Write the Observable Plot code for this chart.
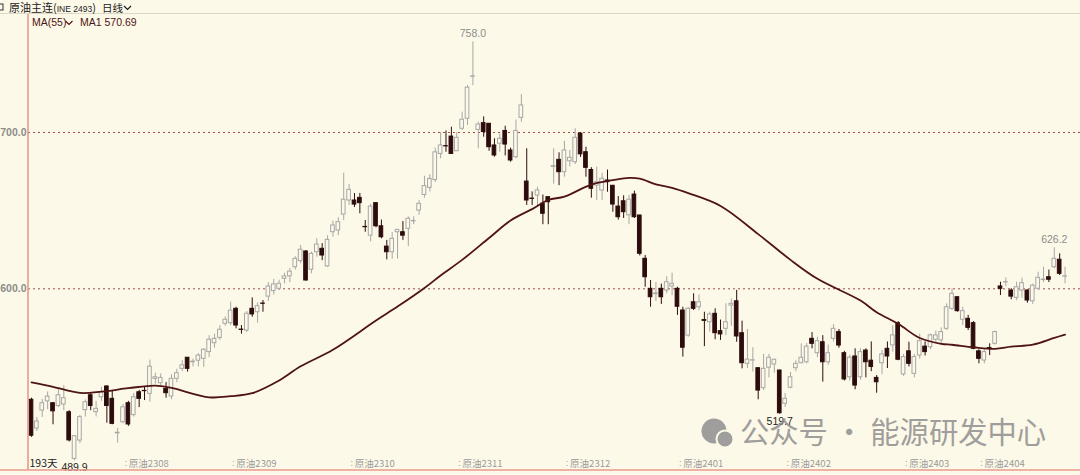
<!DOCTYPE html>
<html><head><meta charset="utf-8">
<script src="https://cdn.jsdelivr.net/npm/d3@7"></script>
<script src="https://cdn.jsdelivr.net/npm/@observablehq/plot@0.6"></script>
<style>
html,body{margin:0;padding:0;background:#fdf9e8;}
#chart{width:1080px;height:475px;overflow:hidden;}
</style></head><body><div id="chart"></div>
<script>
// ---- data (daily OHLC, 原油主连) ----
const open = [529,510.6,522.1,528,526.8,525,526,521,491.2,502.9,
522.4,531.9,521.1,530.6,537.5,529.6,507.5,514.6,526.8,519.2,
533.8,534.7,532.8,542.4,539.6,536,531.1,542.4,548.8,555.9,
553,554,555.2,559.5,565.2,568.6,577.6,578,587.2,573.9,
573.3,587.2,585,590.6,595,598.5,600,606.4,608,613.8,
617.7,623.9,612.2,623.4,625.6,614.3,636.2,637.3,647.5,656.5,
656.5,658.2,639.6,634,654.8,640,627,623.4,636.2,636.2,
638.4,643.2,650,660,664.6,669.6,686.3,691.3,697.4,688,
702.4,708.8,735.6,701.7,706,705.6,691.7,692.8,701,688.5,
684.2,709.4,668.6,657.7,659.7,654.4,658.6,678,682.5,674.6,
681.6,681,699.2,687.4,676,666,662.9,669.3,665.9,652.6,
656,647,660.3,646.9,619.2,600,596.6,600,598.9,601.5,
600,586.1,570,591.4,588.2,580,578.6,584,572.9,574.4,
589.3,592,571.6,552,554.1,549.2,536.4,549.5,551.6,547.7,
526.4,536.7,549.2,552.4,553,568,558.8,565.8,553,568,
572.3,558.8,543.4,556.7,543.4,560.5,554,543,552.4,561.6,
563.8,578,545.2,560,545.6,557.3,563,562.6,567.4,567,
574.4,587.2,594.6,580.2,580.8,578,560,554.1,562.1,564.8,
601.5,604.1,598.9,594.2,598.9,598.9,592,600,605.6,607.4,
613.8,618.6,607.8];
const high = [530,517.7,529.2,534,527,536,538,522,506,519,
529,533,528,537,538,535,510.6,526,528,533,
535,537.5,554.4,546,545.5,540,545,548.5,554,556,
555,558.5,561.6,570,571,576.5,582,591.5,588.2,576.5,
585.5,594.2,591,592.5,604,606,605.5,610,613,620.5,
627.7,624.5,623.4,632,628.9,634,643.3,645.5,674,666.7,
661,661,643.7,654,655,644,631,636,638,643,
646,646,656.5,672,673,690,700,701,703.4,700,
713,730,758,706.6,710,705.6,696,699,704,690,
708,724.3,689.6,662,665,660,659,689.6,687,694.4,
688.5,702.4,700,690.6,677.5,677.8,674,676,666.2,659,
659.5,659.7,662.5,647,621.3,605.3,604,603,607.8,610,
601,588.2,588,596.8,596,585,585,587.2,580,590.4,
593.5,599,579.3,574,562.3,549.2,558,558,555,548,
533,546.5,554,564.8,565,572,569,570,564,577,
574,560,557.5,561.6,561.6,561.6,566,544.5,560.5,566,
576.5,579,558,565.8,558,571,566,571,573,575,
590.4,600,595,588.2,583,579,561,561,564.8,573,
604.2,607,600,604.2,606.8,599.4,603,610.6,613.8,612,
626.2,622.4,613.8];
const low = [505,508.7,517.7,522.7,513,524,522,502,489.9,501,
518,522,518,528,514,513,501.2,513.6,512,518,
524,528.5,527.4,539,538,530,529,540,547,546.7,
550,550,549.8,556,562,567,576,576.5,574.4,571,
572,581.8,578,585,592,596,599,603.2,604,612,
616,605,609.6,620.2,618,613.6,633,634,643.7,653.3,
652,648,636.2,630,639,632,618.5,618.8,619,631,
627,641,647,658,662,668,683.2,687.4,686,688,
701.3,704.5,730,689.6,697,688,684.2,687.4,685,681,
683.2,706.6,653.3,653.3,653,641,641,667,666,671.4,
678,679.5,684,671.4,658,656.5,656.5,661.8,649,644,
645,641,645,621,601,588.2,592,590,596.8,595.6,
583,556.3,569,586.1,586,563,572.3,567.4,567,570,
576,565.8,548.8,549,546.7,529,535,543,546,519.7,
524,536,547,552,552,561.6,556,540.3,551,566,
562,541,541,535.4,541.6,543,547,533.2,545,549,
559.5,554,544,550,543,555,557,561,565,565,
573.3,586.1,585,576.5,573.3,561,552,552,557.3,564,
595.7,601.5,593,592.4,594,590.8,590,599,604,604,
612.8,608.5,603.2];
const close = [506,515.1,526.8,531,521.6,531.9,530,503,505.7,517.9,
527.4,525,523.2,533.8,525,513.6,507.9,524.2,513.2,530.6,
529.6,534.5,550.2,543.4,543,533.2,542.4,546,551,548.8,
553.4,557.3,561,567.4,568,573.8,580.2,586,576.5,573.7,
584,583.6,588.9,590.4,601.5,602.8,603.2,607.9,611,619.2,
625,605.3,622.4,628.3,621.3,631.3,640.5,642.6,657,663.3,
653.9,654.8,639.4,652.6,640,633,623.4,632,637.7,634,
644.8,643.4,654.4,665.7,670.3,687.3,691.7,691.1,686.3,696.6,
708.2,728.7,735.9,705.1,700.3,690.6,685.3,696,692.3,682.1,
701,717.3,656.5,657.5,662.9,648,655.4,678.5,674.6,688.5,
683.8,696.6,686,677.4,664,668.2,670.4,668.2,653.9,645.8,
649,657,645.8,622.4,607.4,594.6,597,594.6,604.2,603.2,
588.5,562.3,587.2,587.2,591.4,579.5,583.6,571.6,570.8,578.6,
590.4,569.5,552.4,554.7,554.3,534.9,548.8,555.9,554.6,520.4,
529.6,543.4,552,555.9,563,564.8,566.5,553,558.8,574.4,
563.7,542,555.9,538.1,559.5,553,550,540.2,558,556.7,
570.2,554.6,556.3,552,556.3,566.5,559.5,570.2,570.2,572.3,
588.2,596.8,585.7,585.7,575,561.6,555.2,559.5,561.9,572.3,
600,604.3,595,601,603.6,592.5,602,607,605.9,605.8,
619.2,609.6,608];
// MA(55) readings: candle index -> value
const maIdx = [0,4,9,13,18,23,26,33,37,41,46,50,56,64,68,73,76,80,85,89,93,96,99,104,108,111,113,116,119,122,128,135,141,146,154,157,161,165,169,171,175,179,182,186,190,192];
const maVal = [540.1,537.3,533.4,534.2,536.4,538.1,536.6,530.6,531.3,533.2,541.3,550.4,561,579.7,588.6,600.5,608.5,618.5,632.5,643.7,651,656.8,659,666.7,669.5,671,670.5,666.8,664.6,661.2,653,635,618.5,606.4,592.5,585,577.6,568.5,564.8,564.2,562.6,561.6,563,564.3,568.6,570.69];
// contract labels: first candle index of each label
const monthStart = [18,38,60,80,100,121,141,163,177];
const monthLabels = ["原油2308","原油2309","原油2310","原油2311","原油2312","原油2401","原油2402","原油2403","原油2404"];
const yTicks = [600,700];
const highNotes = [82,190];
const lowNotes = [8,139];

// ---- styling ----
const BG="#fdf9e8", UP="#a6a6a6", DN="#2c0c0c", MAC="#4e1414", GRID="#a34a46", AXISC="#e79a8c";
const numFont = "'Liberation Sans', Arial, sans-serif";
const cjk = "'Noto Sans CJK SC', sans-serif";

const candles = open.map((o,i)=>({i,o,h:high[i],l:low[i],c:close[i],up:close[i]>=o}));
const ma = maIdx.map((i,k)=>({i,v:maVal[k]}));
const months = monthStart.map((i,k)=>({i:i-0.5,label:monthLabels[k]}));
const notesHi = highNotes.map(i=>candles[i]);
const notesLo = lowNotes.map(i=>candles[i]);

const chart = Plot.plot({
  width:1080, height:475,
  marginLeft:28, marginRight:0, marginTop:14, marginBottom:5,
  style:{background:BG, fontFamily:numFont, fontSize:"10px", overflow:"visible"},
  x:{domain:[-0.557,194.87], axis:null},
  y:{domain:[483.75,775.5]},
  color:{type:"identity"},
  marks:[
    Plot.ruleY(yTicks,{stroke:GRID, strokeDasharray:"2,3", strokeWidth:1}),
    Plot.axisY(yTicks,{anchor:"left", tickSize:0, tickPadding:2, tickFormat:d=>d.toFixed(1), color:"#8c8c8c", fontSize:10.5, fontWeight:"bold", label:null}),
    Plot.ruleX(candles,{x:"i", y1:"l", y2:"h", stroke:d=>d.up?UP:DN, strokeWidth:1}),
    Plot.rect(candles,{x1:d=>d.i-0.34, x2:d=>d.i+0.34, y1:"o", y2:"c", fill:d=>d.up?BG:DN, stroke:d=>d.up?UP:DN, strokeWidth:1}),
    Plot.line(ma,{x:"i", y:"v", stroke:MAC, strokeWidth:1.8, curve:"catmull-rom"}),
    Plot.text(notesHi,{x:"i", y:"h", text:d=>d.h.toFixed(1), dy:-8, fill:"#8c8c8c", fontSize:10.5}),
    Plot.text(notesLo,{x:"i", y:"l", text:d=>d.l.toFixed(1), dy:7, fill:"#1e1e1e", fontSize:10.5}),
    Plot.text(months,{x:"i", frameAnchor:"bottom", text:()=>":", dy:-5, fill:"#9a9a9a", fontSize:9}),
    Plot.text(months,{x:"i", frameAnchor:"bottom", text:"label", textAnchor:"start", dx:3, dy:-4, fill:"#9a9a9a", fontSize:9.5, fontFamily:cjk}),
    Plot.text([`${open.length}天`],{frameAnchor:"bottom-left", textAnchor:"start", dx:1, dy:-4, fill:"#1e1e1e", fontSize:10.5, fontFamily:cjk})
  ]
});
document.getElementById("chart").appendChild(chart);

// ---- decorations ----
const svg = d3.select(chart);
const deco = svg.append("g").attr("text-anchor","start");
deco.append("line").attr("x1",0).attr("x2",1080).attr("y1",13.5).attr("y2",13.5).attr("stroke","#ddd8c6").attr("stroke-width",1);
deco.append("line").attr("x1",28).attr("x2",28).attr("y1",14).attr("y2",470).attr("stroke",AXISC).attr("stroke-width",1.6);
deco.append("line").attr("x1",0).attr("x2",1080).attr("y1",470).attr("y2",470).attr("stroke",AXISC).attr("stroke-width",1.6);
// header
deco.append("rect").attr("x",-2).attr("y",4).attr("width",5).attr("height",6).attr("fill","none").attr("stroke","#333");
const h = deco.append("text").attr("x",9).attr("y",12).attr("font-family",cjk).attr("font-size",11).attr("fill","#1a1a1a");
h.append("tspan").text("原油主连(");
h.append("tspan").attr("font-size",8.5).attr("font-family",numFont).text("INE 2493");
h.append("tspan").text(")");
deco.append("text").attr("x",102).attr("y",12).attr("font-family",cjk).attr("font-size",10.5).attr("fill","#1a1a1a").text("日线");
deco.append("path").attr("d","M124,6 L127.5,9.5 L131,6").attr("fill","none").attr("stroke","#1a1a1a").attr("stroke-width",1.2);
deco.append("text").attr("x",32).attr("y",26).attr("font-family",numFont).attr("font-size",10.5).attr("fill",MAC).text("MA(55)");
deco.append("path").attr("d","M65.5,21 L69,24.5 L72.5,21").attr("fill","none").attr("stroke",MAC).attr("stroke-width",1.2);
deco.append("text").attr("x",80).attr("y",26).attr("font-family",numFont).attr("font-size",10.5).attr("fill",MAC).text("MA1 " + maVal[maVal.length-1].toFixed(2));
// watermark
const wm = deco.append("g").attr("opacity",0.85);
wm.append("circle").attr("cx",714).attr("cy",431).attr("r",12.5).attr("fill","#8f8f8f");
wm.append("circle").attr("cx",725).attr("cy",439).attr("r",8.5).attr("fill","#8f8f8f").attr("stroke",BG).attr("stroke-width",2);
wm.append("text").attr("x",740).attr("y",443).attr("font-family",cjk).attr("font-size",29.3).attr("fill","#8f8f8f").text("公众号 · 能源研发中心");
</script>
</body></html>
